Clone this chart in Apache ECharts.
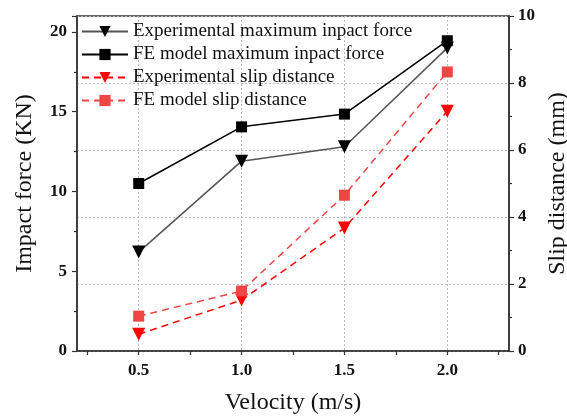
<!DOCTYPE html>
<html lang="en">
<head>
    <meta charset="UTF-8">
    <title>Impact force and slip distance</title>
    <script src="https://cdn.jsdelivr.net/npm/echarts@6/dist/echarts.min.js"></script>
</head>
<body style="margin:0;background:#fff;">
<div id="main" style="width:567px;height:417px;"></div>
<script>
    // velocities (m/s)
    var velocity = [0.5, 1.0, 1.5, 2.0];
    // impact force (KN), left axis
    var expForce = [6.2, 11.9, 12.8, 19.0];
    var feForce = [10.5, 14.05, 14.85, 19.45];
    // slip distance (mm), right axis
    var expSlip = [0.5, 1.52, 3.67, 7.16];
    var feSlip = [1.04, 1.79, 4.65, 8.33];

    var xTicks = [0.25, 0.5, 0.75, 1.0, 1.25, 1.5, 1.75, 2.0, 2.25];
    var xLabels = [0.5, 1.0, 1.5, 2.0];

    var serif = '"Liberation Serif", "Times New Roman", serif';

    function pairs(xs, ys) {
        var out = [];
        for (var i = 0; i < xs.length; i++) {
            out.push([xs[i], ys[i]]);
        }
        return out;
    }

    var chart = echarts.init(document.getElementById('main'));

    var option = {
        animation: false,
        grid: {
            left: 77, right: 58, top: 16, bottom: 66,
            outerBoundsMode: 'none', containLabel: false,
            show: true, borderColor: '#333', borderWidth: 1.5, backgroundColor: 'transparent'
        },
        legend: {
            orient: 'vertical',
            left: 76, top: 17,
            itemWidth: 46, itemHeight: 14, itemGap: 4,
            textStyle: { fontFamily: serif, fontSize: 19, color: '#111' },
            data: ['Experimental maximum inpact force', 'FE model maximum inpact force',
                   'Experimental slip distance', 'FE model slip distance']
        },
        xAxis: [{
            type: 'value',
            min: 0.2, max: 2.3,
            name: 'Velocity (m/s)',
            nameLocation: 'middle', nameGap: 40,
            nameTextStyle: { fontFamily: serif, fontSize: 24, color: '#111' },
            axisLine: { lineStyle: { color: '#333', width: 1.5 } },
            axisTick: { show: true, length: 4, customValues: xTicks, lineStyle: { color: '#333', width: 1.2 } },
            axisLabel: {
                customValues: xLabels, margin: 11,
                fontFamily: serif, fontSize: 17, fontWeight: 'bold', color: '#111',
                formatter: function (v) { return v.toFixed(1); }
            },
            splitLine: { show: false }
        }, {
            type: 'value',
            min: 0.2, max: 2.3,
            position: 'top',
            axisLine: { show: false },
            axisTick: { show: false, customValues: xLabels },
            axisLabel: { show: false, customValues: xLabels },
            splitLine: { show: true, lineStyle: { color: '#bbb', type: [2, 2], width: 1 } }
        }],
        yAxis: [{
            type: 'value',
            min: 0, max: 21, interval: 5,
            name: 'Impact force (KN)',
            nameLocation: 'middle', nameGap: 40,
            nameTextStyle: { fontFamily: serif, fontSize: 24, color: '#111' },
            axisLine: { show: true, lineStyle: { color: '#333', width: 1.5 } },
            axisTick: { show: true, length: 5, lineStyle: { color: '#333', width: 1.2 } },
            minorTick: { show: true, splitNumber: 2, length: 3, lineStyle: { color: '#333', width: 1.2 } },
            axisLabel: {
                fontFamily: serif, fontSize: 17, fontWeight: 'bold', color: '#111', margin: 10,
                showMaxLabel: false
            },
            splitLine: { show: false }
        }, {
            type: 'value',
            min: 0, max: 10, interval: 2,
            position: 'right',
            name: 'Slip distance (mm)',
            nameLocation: 'middle', nameGap: 34,
            nameRotate: 90,
            nameTextStyle: { fontFamily: serif, fontSize: 24, color: '#111' },
            axisLine: { show: true, lineStyle: { color: '#333', width: 1.5 } },
            axisTick: { show: true, length: 5, lineStyle: { color: '#333', width: 1.2 } },
            minorTick: { show: true, splitNumber: 2, length: 3, lineStyle: { color: '#333', width: 1.2 } },
            axisLabel: { fontFamily: serif, fontSize: 17, fontWeight: 'bold', color: '#111', margin: 9 },
            splitLine: { show: true, lineStyle: { color: '#bbb', type: [2, 2], width: 1 } }
        }],
        series: [{
            name: 'Experimental maximum inpact force',
            type: 'line',
            yAxisIndex: 0,
            data: pairs(velocity, expForce),
            symbol: 'triangle', symbolRotate: 180, symbolSize: 13,
            itemStyle: { color: '#000' },
            lineStyle: { color: '#555', width: 1.5 }
        }, {
            name: 'FE model maximum inpact force',
            type: 'line',
            yAxisIndex: 0,
            data: pairs(velocity, feForce),
            symbol: 'rect', symbolSize: 11,
            itemStyle: { color: '#000' },
            lineStyle: { color: '#000', width: 1.5 }
        }, {
            name: 'Experimental slip distance',
            type: 'line',
            yAxisIndex: 1,
            data: pairs(velocity, expSlip),
            symbol: 'triangle', symbolRotate: 180, symbolSize: 13,
            itemStyle: { color: '#ff0000' },
            lineStyle: { color: '#ff0000', width: 1.5, type: [7, 5] }
        }, {
            name: 'FE model slip distance',
            type: 'line',
            yAxisIndex: 1,
            data: pairs(velocity, feSlip),
            symbol: 'rect', symbolSize: 11,
            itemStyle: { color: '#f04545' },
            lineStyle: { color: '#f04545', width: 1.5, type: [7, 5] }
        }]
    };
    chart.setOption(option);
</script>
</body>
</html>
